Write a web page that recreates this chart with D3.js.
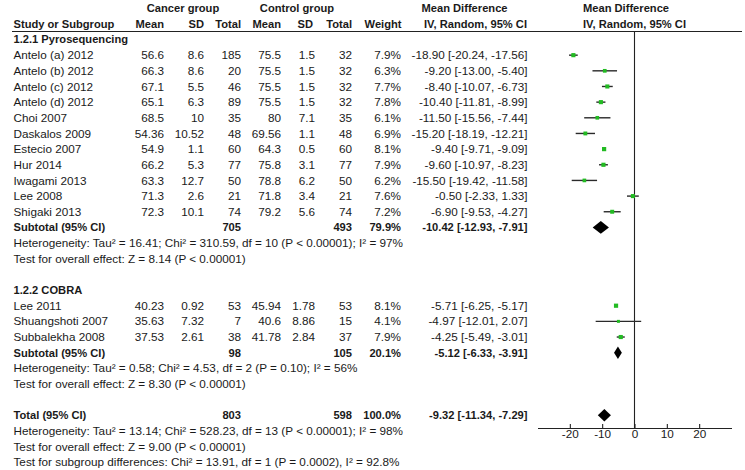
<!DOCTYPE html>
<html><head><meta charset="utf-8">
<script src="https://cdn.jsdelivr.net/npm/d3@7"></script>
<style>
html,body{margin:0;padding:0;background:#fff;}
svg text{font-family:Arial,"Liberation Sans",sans-serif;fill:#1a1a1a;}
</style></head><body>
<svg id="chart" width="745" height="470"></svg>
<script>
// ---------- data ----------
const studies = ["Antelo (a) 2012","Antelo (b) 2012","Antelo (c) 2012","Antelo (d) 2012","Choi 2007","Daskalos 2009","Estecio 2007","Hur 2014","Iwagami 2013","Lee 2008","Shigaki 2013","Lee 2011","Shuangshoti 2007","Subbalekha 2008"];
const subgroupOf = [0,0,0,0,0,0,0,0,0,0,0,1,1,1];
const cancerMean = [56.6,66.3,67.1,65.1,68.5,54.36,54.9,66.2,63.3,71.3,72.3,40.23,35.63,37.53];
const cancerSD = [8.6,8.6,5.5,6.3,10,10.52,1.1,5.3,12.7,2.6,10.1,0.92,7.32,2.61];
const cancerTotal = [185,20,46,89,35,48,60,77,50,21,74,53,7,38];
const controlMean = [75.5,75.5,75.5,75.5,80,69.56,64.3,75.8,78.8,71.8,79.2,45.94,40.6,41.78];
const controlSD = [1.5,1.5,1.5,1.5,7.1,1.1,0.5,3.1,6.2,3.4,5.6,1.78,8.86,2.84];
const controlTotal = [32,32,32,32,35,48,60,77,50,21,74,53,15,37];
const weights = [7.9,6.3,7.7,7.8,6.1,6.9,8.1,7.9,6.2,7.6,7.2,8.1,4.1,7.9];
const meanDiff = [-18.90,-9.20,-8.40,-10.40,-11.50,-15.20,-9.40,-9.60,-15.50,-0.50,-6.90,-5.71,-4.97,-4.25];
const ciLow = [-20.24,-13.00,-10.07,-11.81,-15.56,-18.19,-9.71,-10.97,-19.42,-2.33,-9.53,-6.25,-12.01,-5.49];
const ciHigh = [-17.56,-5.40,-6.73,-8.99,-7.44,-12.21,-9.09,-8.23,-11.58,1.33,-4.27,-5.17,2.07,-3.01];

const subgroupNames = ["1.2.1 Pyrosequencing","1.2.2 COBRA"];
const pooledLabels = ["Subtotal (95% CI)","Subtotal (95% CI)","Total (95% CI)"];
const pooledCancerTotal = [705,98,803];
const pooledControlTotal = [493,105,598];
const pooledWeight = [79.9,20.1,100.0];
const pooledMD = [-10.42,-5.12,-9.32];
const pooledLow = [-12.93,-6.33,-11.34];
const pooledHigh = [-7.91,-3.91,-7.29];
const heterogeneityText = [
  "Heterogeneity: Tau\u00b2 = 16.41; Chi\u00b2 = 310.59, df = 10 (P < 0.00001); I\u00b2 = 97%",
  "Heterogeneity: Tau\u00b2 = 0.58; Chi\u00b2 = 4.53, df = 2 (P = 0.10); I\u00b2 = 56%",
  "Heterogeneity: Tau\u00b2 = 13.14; Chi\u00b2 = 528.23, df = 13 (P < 0.00001); I\u00b2 = 98%"
];
const overallEffectText = [
  "Test for overall effect: Z = 8.14 (P < 0.00001)",
  "Test for overall effect: Z = 8.30 (P < 0.00001)",
  "Test for overall effect: Z = 9.00 (P < 0.00001)"
];
const subgroupDiffText = "Test for subgroup differences: Chi\u00b2 = 13.91, df = 1 (P = 0.0002), I\u00b2 = 92.8%";
const tickValues = [-20,-10,0,10,20];

// ---------- layout ----------
const svg = d3.select("#chart");

// calibrate font sizes so text widths match the reference
function measure(s, bold){
  const t = svg.append("text").style("font-size","100px").style("font-weight",bold?"bold":"normal").text(s);
  const w = t.node().getComputedTextLength(); t.remove(); return w;
}
const FS = (100*390/measure(heterogeneityText[0],false)).toFixed(2)+"px";
const FSB = (100*101/measure("Study or Subgroup",true)).toFixed(2)+"px";

const y = d3.scaleLinear().domain([0,27]).range([39.5,462.3]);
const x = d3.scaleLinear().domain([-30,30]).range([537.5,731.5]);
const sq = d3.scaleSqrt().domain([0,8.1]).range([0,2.1]);
const fmtW = d3.format(".1f"), fmtMD = d3.format(".2f");
const dash = s => s.replace(/\u2212/g,"-");
const ciStr = (m,l,h) => dash(`${fmtMD(m)} [${fmtMD(l)}, ${fmtMD(h)}]`);

const col = {name:13.5, cMean:164, cSD:204, cTot:241, kMean:281, kSD:315, kTot:352, w:401, ci:527.5};

const studyRow = [1,2,3,4,5,6,7,8,9,10,11,17,18,19];
const groupRow = [0,16];
const pooledRow = [12,20,24];
const hetRow = [13,21,25];
const effRow = [14,22,26];

function txt(xp, yp, s, anchor, bold){
  svg.append("text").attr("x",xp).attr("y",yp).attr("dy","0.35em")
    .attr("text-anchor",anchor||"start")
    .style("font-size",bold?FSB:FS).style("font-weight",bold?"bold":"normal").text(s);
}

const yH1 = y(-2), yH2 = y(-1);
txt(183, yH1, "Cancer group", "middle", true);
txt(297, yH1, "Control group", "middle", true);
txt(464.5, yH1, "Mean Difference", "middle", true);
txt(626, yH1, "Mean Difference", "middle", true);
txt(col.name, yH2, "Study or Subgroup", "start", true);
txt(col.cMean, yH2, "Mean", "end", true);
txt(col.cSD, yH2, "SD", "end", true);
txt(col.cTot, yH2, "Total", "end", true);
txt(col.kMean, yH2, "Mean", "end", true);
txt(313, yH2, "SD", "end", true);
txt(col.kTot, yH2, "Total", "end", true);
txt(col.w+0.5, yH2, "Weight", "end", true);
txt(475.5, yH2, "IV, Random, 95% CI", "middle", true);
txt(x(0), yH2, "IV, Random, 95% CI", "middle", true);

svg.append("line").attr("x1",12).attr("x2",742).attr("y1",31.5).attr("y2",31.5)
  .attr("stroke","#222").attr("stroke-width",1.2);

svg.append("line").attr("x1",x(0)).attr("x2",x(0)).attr("y1",31.5).attr("y2",428)
  .attr("stroke","#222").attr("stroke-width",1.1);

subgroupNames.forEach((n,i)=>txt(col.name, y(groupRow[i]), n, "start", true));

studies.forEach((s,i)=>{
  const yy = y(studyRow[i]);
  txt(col.name, yy, s);
  txt(col.cMean, yy, String(cancerMean[i]), "end");
  txt(col.cSD, yy, String(cancerSD[i]), "end");
  txt(col.cTot, yy, String(cancerTotal[i]), "end");
  txt(col.kMean, yy, String(controlMean[i]), "end");
  txt(col.kSD, yy, String(controlSD[i]), "end");
  txt(col.kTot, yy, String(controlTotal[i]), "end");
  txt(col.w, yy, fmtW(weights[i])+"%", "end");
  txt(col.ci, yy, ciStr(meanDiff[i],ciLow[i],ciHigh[i]), "end");
});

const g = svg.append("g");
g.selectAll("line.ci").data(studies).join("line").attr("class","ci")
  .attr("x1",(d,i)=>x(ciLow[i])).attr("x2",(d,i)=>x(ciHigh[i]))
  .attr("y1",(d,i)=>y(studyRow[i])).attr("y2",(d,i)=>y(studyRow[i]))
  .attr("stroke","#2a2a2a").attr("stroke-width",1.4);
g.selectAll("rect.sq").data(studies).join("rect").attr("class","sq")
  .attr("x",(d,i)=>x(meanDiff[i])-sq(weights[i]))
  .attr("y",(d,i)=>y(studyRow[i])-sq(weights[i]))
  .attr("width",(d,i)=>2*sq(weights[i]))
  .attr("height",(d,i)=>2*sq(weights[i]))
  .attr("fill","#22bb22");

pooledLabels.forEach((l,i)=>{
  const yy = y(pooledRow[i]);
  txt(col.name, yy, l, "start", true);
  txt(col.cTot, yy, String(pooledCancerTotal[i]), "end", true);
  txt(col.kTot, yy, String(pooledControlTotal[i]), "end", true);
  txt(col.w, yy, fmtW(pooledWeight[i])+"%", "end", true);
  txt(col.ci, yy, ciStr(pooledMD[i],pooledLow[i],pooledHigh[i]), "end", true);
  txt(col.name, y(hetRow[i]), heterogeneityText[i]);
  txt(col.name, y(effRow[i]), overallEffectText[i]);
});
txt(col.name, y(27), subgroupDiffText);

g.selectAll("path.dia").data(pooledMD).join("path").attr("class","dia")
  .attr("d",(d,i)=>{
    const yy = y(pooledRow[i]), h = 6.3;
    return `M${x(pooledLow[i])},${yy}L${x(d)},${yy-h}L${x(pooledHigh[i])},${yy}L${x(d)},${yy+h}Z`;
  }).attr("fill","#000");

const axis = d3.axisBottom(x).tickValues(tickValues).tickSizeInner(-4).tickSizeOuter(0).tickPadding(2)
  .tickFormat(d=>String(d));
const ax = svg.append("g").attr("transform","translate(0,428)").call(axis);
ax.select(".domain").attr("stroke","#222").attr("stroke-width",1.1);
ax.selectAll(".tick line").attr("stroke","#222").attr("stroke-width",1.1);
ax.selectAll(".tick text").style("font-size",FS).style("font-family","Arial,\"Liberation Sans\",sans-serif").attr("fill","#1a1a1a");
</script>
</body></html>
